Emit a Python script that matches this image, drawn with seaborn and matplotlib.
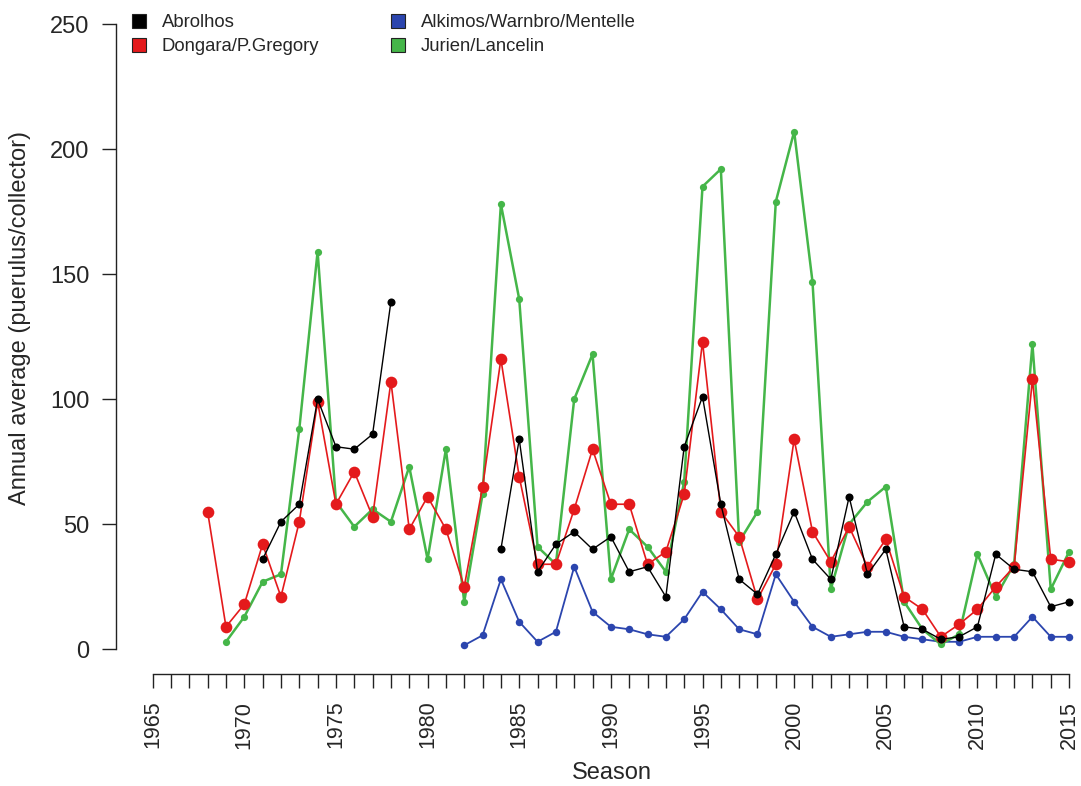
import numpy as np
import pandas as pd
import seaborn as sns
import matplotlib.pyplot as plt
from matplotlib.lines import Line2D
from matplotlib.ticker import FixedLocator

nan = np.nan
years = list(range(1968, 2016))

# Abrolhos (black), gap 1979-1983
abrolhos = [nan, nan, nan, 36, 51, 58, 100, 81, 80, 86,
            139, nan, nan, nan, nan, nan, 40, 84, 31, 42,
            47, 40, 45, 31, 33, 21, 81, 101, 58, 28,
            22, 38, 55, 36, 28, 61, 30, 40, 9, 8,
            4, 5, 9, 38, 32, 31, 17, 19]
# Dongara/P.Gregory (red)
dongara = [55, 9, 18, 42, 21, 51, 99, 58, 71, 53,
           107, 48, 61, 48, 25, 65, 116, 69, 34, 34,
           56, 80, 58, 58, 34, 39, 62, 123, 55, 45,
           20, 34, 84, 47, 35, 49, 33, 44, 21, 16,
           5, 10, 16, 25, 33, 108, 36, 35]
# Alkimos/Warnbro/Mentelle (blue)
alkimos = [nan] * 14 + [1.6, 5.6, 28, 11, 3, 7,
           33, 15, 9, 8, 6, 5, 12, 23, 16, 8,
           6, 30, 19, 9, 5, 6, 7, 7, 5, 4,
           3, 3, 5, 5, 5, 13, 5, 5]
# Jurien/Lancelin (green)
jurien = [nan, 3, 13, 27, 30, 88, 159, 59, 49, 56,
          51, 73, 36, 80, 19, 62, 178, 140, 41, 34,
          100, 118, 28, 48, 41, 31, 67, 185, 192, 43,
          55, 179, 207, 147, 24, 50, 59, 65, 19, 8,
          2, 6, 38, 21, 34, 122, 24, 39]

axis_years = list(range(1965, 2016))
label_years = list(range(1965, 2016, 5))
y_ticks = [0, 50, 100, 150, 200, 250]

sites = ['Abrolhos', 'Dongara/P.Gregory', 'Alkimos/Warnbro/Mentelle', 'Jurien/Lancelin']
colors = {'Abrolhos': '#000000', 'Dongara/P.Gregory': '#E41A1C',
          'Alkimos/Warnbro/Mentelle': '#2B45AE', 'Jurien/Lancelin': '#45B649'}
msize = {'Abrolhos': 5.8, 'Dongara/P.Gregory': 8.4,
         'Alkimos/Warnbro/Mentelle': 5.4, 'Jurien/Lancelin': 5.2}
lwidth = {'Abrolhos': 1.0, 'Dongara/P.Gregory': 1.2,
          'Alkimos/Warnbro/Mentelle': 1.3, 'Jurien/Lancelin': 1.8}

rows = []
for name, vals in zip(sites, [abrolhos, dongara, alkimos, jurien]):
    s = pd.Series(vals, dtype=float)
    seg = s.isna().cumsum()
    for y, v, g in zip(years, s, seg):
        rows.append({'year': y, 'site': name, 'value': v, 'seg': g})
df = pd.DataFrame(rows).dropna()

sns.set_style("ticks")
plt.rcParams['font.family'] = ['Liberation Sans', 'DejaVu Sans']

fig = plt.figure(figsize=(10.81, 7.86), dpi=100)
ax = fig.add_axes([0.1073, 0.1421, 0.8927, 0.8579])

for name in ['Alkimos/Warnbro/Mentelle', 'Jurien/Lancelin', 'Dongara/P.Gregory', 'Abrolhos']:
    d = df[df['site'] == name]
    sns.lineplot(data=d, x='year', y='value', units='seg', estimator=None,
                 color=colors[name], marker='o', markersize=msize[name],
                 markeredgewidth=0, linewidth=lwidth[name], ax=ax, legend=False)

ax.set_xlim(1963.0, 2015.65)
ax.set_ylim(-10, 259.6)
ax.spines['top'].set_visible(False)
ax.spines['right'].set_visible(False)
ax.spines['left'].set_bounds(0, 250)
ax.spines['bottom'].set_bounds(1965, 2015)
for sp in ['left', 'bottom']:
    ax.spines[sp].set_linewidth(1.0)
    ax.spines[sp].set_color('#222222')

ax.set_yticks(y_ticks)
ax.xaxis.set_major_locator(FixedLocator(label_years))
ax.xaxis.set_minor_locator(FixedLocator([y for y in axis_years if y not in label_years]))
ax.tick_params(axis='y', length=10, width=1.0, pad=9, labelsize=17, color='#222222')
ax.tick_params(axis='x', which='both', length=10, width=1.0, pad=9, labelsize=15.5,
               labelrotation=90, color='#222222')
ax.set_xlabel('')
ax.set_ylabel('')

fig.text(20 / 1081, 0.595, 'Annual average (puerulus/collector)', rotation=90,
         ha='center', va='center', fontsize=17)
fig.text(0.566, 0.017, 'Season', ha='center', va='center', fontsize=17)

handles = [Line2D([], [], marker='s', linestyle='none', markersize=10.5,
                  markerfacecolor=colors[n], markeredgecolor='#222222',
                  markeredgewidth=0.8, label=n) for n in sites]
ax.legend(handles=handles, ncol=2, loc='upper left', frameon=False,
          bbox_to_anchor=(122 / 1081, 1.0 - 7 / 786), bbox_transform=fig.transFigure,
          fontsize=13.3, handlelength=1.0, handletextpad=0.75, columnspacing=3.75,
          labelspacing=0.38, borderaxespad=0)

fig.savefig('out.png', dpi=100)
